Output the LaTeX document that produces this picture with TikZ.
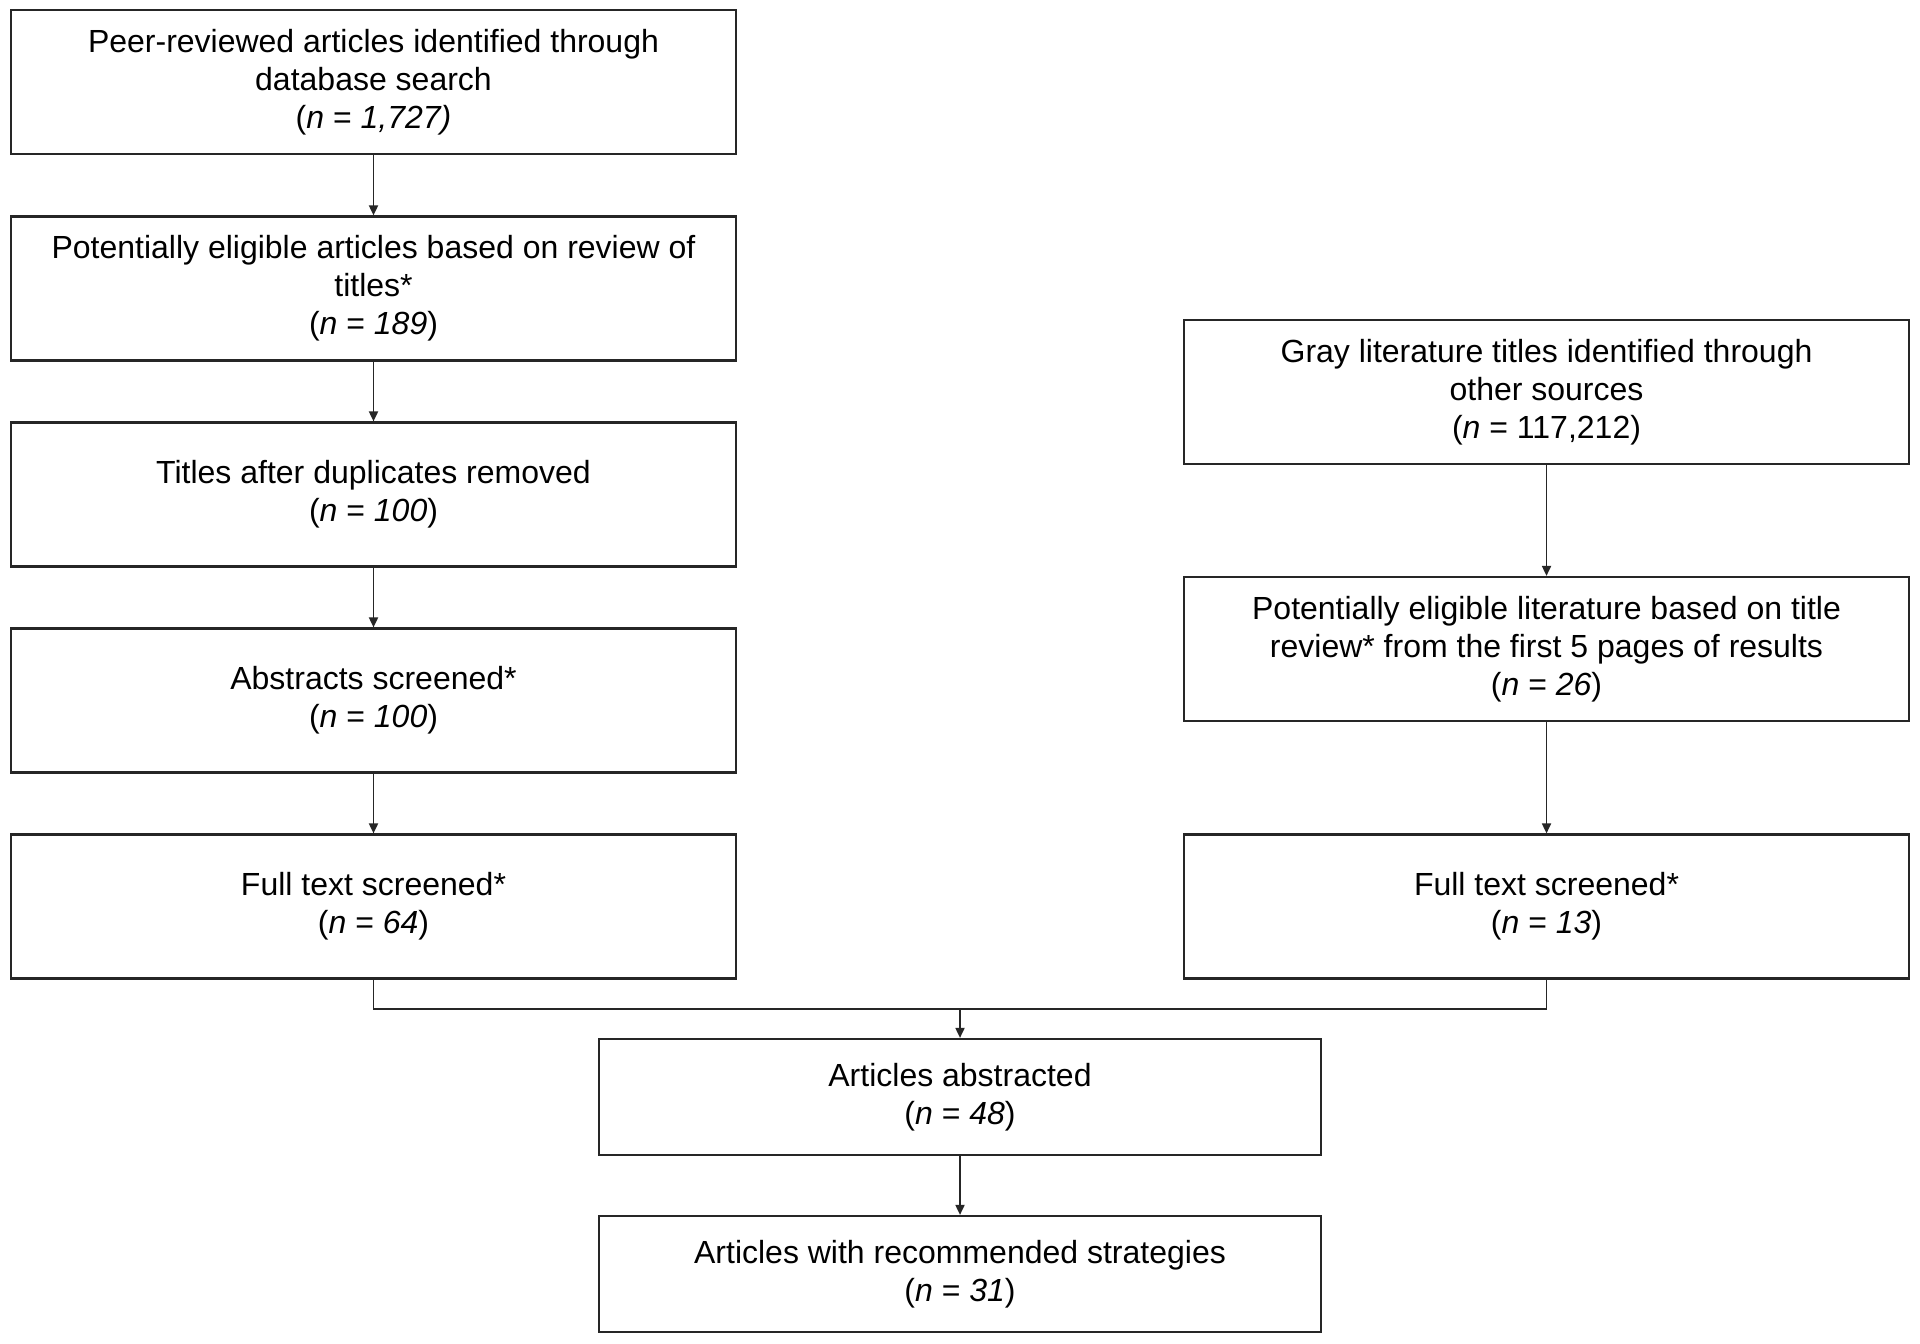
\documentclass[tikz,border=0pt]{standalone}
\usepackage{fontspec}
\setmainfont{Liberation Sans}
\usetikzlibrary{arrows.meta}
\begin{document}
\begin{tikzpicture}[x=0.5pt,y=-0.5pt,
  box/.style={draw=black!85, line width=1.1pt, align=center, inner sep=0pt,
    font=\fontsize{16}{19}\selectfont, minimum width=362.5pt, minimum height=72pt},
  cbox/.style={box, minimum width=361pt, minimum height=58pt},
  conn/.style={draw=black!85, line width=0.9pt},
  arr/.style={conn, -{Triangle[length=5pt,width=4.5pt]}}]
\useasboundingbox (0,0) rectangle (1920,1343);
\fill[white] (0,0) rectangle (1920,1343);
% left column
\node[box] (b1) at (373.5,82) {Peer-reviewed articles identified through\\database search\\(\textit{n} = \textit{1,727)}};
\node[box] (b2) at (373.5,288.5) {Potentially eligible articles based on review of\\titles*\\(\textit{n} = \textit{189})};
\node[box] (b3) at (373.5,494.5) {Titles after duplicates removed\\(\textit{n} = \textit{100})};
\node[box] (b4) at (373.5,700.5) {Abstracts screened*\\(\textit{n} = \textit{100})};
\node[box] (b5) at (373.5,906.5) {Full text screened*\\(\textit{n} = \textit{64})};
% right column
\node[box] (r1) at (1546.5,392) {Gray literature titles identified through\\other sources\\(\textit{n} = 117,212)};
\node[box] (r2) at (1546.5,649) {Potentially eligible literature based on title\\review* from the first 5 pages of results\\(\textit{n} = \textit{26})};
\node[box] (r3) at (1546.5,906.5) {Full text screened*\\(\textit{n} = \textit{13})};
% bottom
\node[cbox] (c1) at (960,1097) {Articles abstracted\\(\textit{n} = \textit{48})};
\node[cbox] (c2) at (960,1274) {Articles with recommended strategies\\(\textit{n} = \textit{31})};
% connectors
\draw[arr] (b1) -- (b2);
\draw[arr] (b2) -- (b3);
\draw[arr] (b3) -- (b4);
\draw[arr] (b4) -- (b5);
\draw[arr] (r1) -- (r2);
\draw[arr] (r2) -- (r3);
\coordinate (m) at (960,1009);
\draw[conn] (b5.south) |- (m) -| (r3.south);
\draw[arr] (m) -- (c1.north);
\draw[arr] (c1) -- (c2);
\end{tikzpicture}
\end{document}
